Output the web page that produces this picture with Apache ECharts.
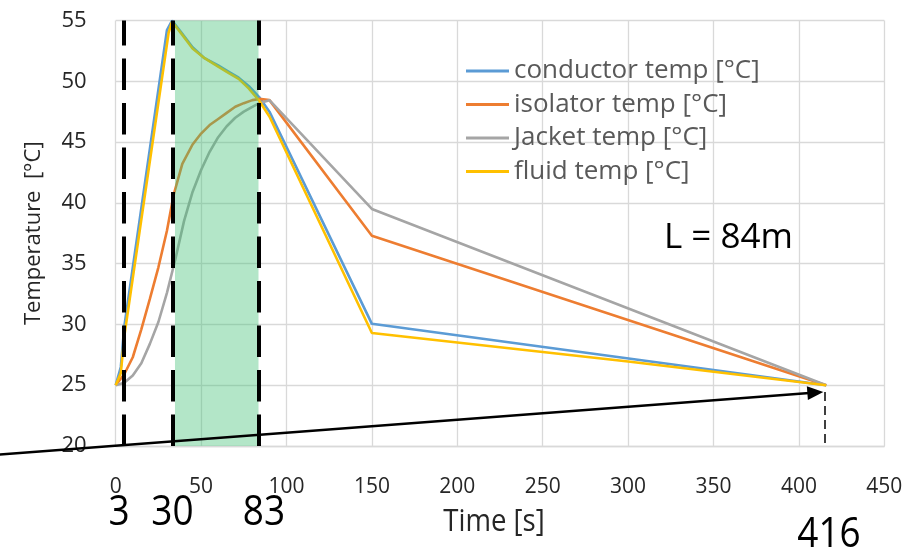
<!DOCTYPE html>
<html><head><meta charset="utf-8">
<script src="https://cdn.jsdelivr.net/npm/echarts@6/dist/echarts.min.js"></script>
<style>html,body{margin:0;padding:0;background:#fff}#c{width:917px;height:547px}</style>
</head><body><div id="c"></div>
<script>
// ---- data ----
const seriesNames = ['conductor temp [°C]', 'isolator temp [°C]', 'Jacket temp [°C]', 'fluid temp [°C]'];
const conductorTime = [0, 3, 5, 30, 33, 38, 45, 52, 60, 66, 72, 78, 84, 90, 150, 416];
const conductorTemp = [25, 26.5, 29.8, 54.2, 55, 54.1, 52.8, 51.9, 51.3, 50.8, 50.3, 49.6, 48.7, 47.5, 30.05, 25];
const isolatorTime = [0, 5, 10, 15, 20, 25, 30, 34, 39, 45, 50, 55, 60, 65, 70, 75, 80, 84, 90, 150, 416];
const isolatorTemp = [25, 25.9, 27.3, 29.6, 32.1, 34.7, 37.7, 40.7, 43.2, 44.8, 45.7, 46.4, 46.9, 47.4, 47.9, 48.2, 48.45, 48.55, 48.45, 37.3, 25];
const jacketTime = [0, 5, 10, 15, 20, 25, 30, 35, 40, 45, 50, 55, 60, 65, 70, 75, 80, 84, 90, 150, 416];
const jacketTemp = [25, 25.2, 25.8, 26.8, 28.4, 30.2, 32.6, 35.4, 38.5, 40.9, 42.7, 44.2, 45.4, 46.3, 47, 47.5, 47.9, 48.2, 48.45, 39.5, 25];
const fluidTime = [0, 3, 5, 31, 33, 38, 45, 52, 60, 66, 72, 78, 84, 90, 150, 300, 416];
const fluidTemp = [25, 26, 29, 54, 54.9, 54, 52.7, 51.9, 51.2, 50.7, 50.2, 49.4, 48.4, 47.1, 29.3, 26.95, 25];
const seriesColors = ['#5b9bd5', '#ed7d31', '#a5a5a5', '#ffc000'];
const markerTimes = [4.45, 33.4, 83.8];     // dashed phase boundaries
const bandRange = [34.7, 83.6];             // shaded phase
const endTime = 415;                        // thin dashed end marker
const arrowStart = [-68, 19.3];
const arrowEnd = [414.3, 24.45];
const xTicks = {min: 0, max: 450, interval: 50};
const yTicks = {min: 20, max: 55, interval: 5};

// ---- chart ----
const FONT = 'Open Sans';
const chart = echarts.init(document.getElementById('c'), null, {renderer: 'canvas'});
const pairs = (t, v) => t.map((x, i) => [x, v[i]]);
const dataSets = [
  pairs(conductorTime, conductorTemp),
  pairs(isolatorTime, isolatorTemp),
  pairs(jacketTime, jacketTemp),
  pairs(fluidTime, fluidTemp)
];
const lineSeries = seriesNames.map((n, i) => ({
  name: n, type: 'line', data: dataSets[i], showSymbol: false, z: 2,
  lineStyle: {width: 2.6, color: seriesColors[i]}, itemStyle: {color: seriesColors[i]},
  emphasis: {disabled: true}
}));

function renderArrow(params, api) {
  const p0 = api.coord(arrowStart);
  const p1 = api.coord(arrowEnd);
  const dx = p1[0] - p0[0], dy = p1[1] - p0[1];
  const len = Math.sqrt(dx * dx + dy * dy);
  const ux = dx / len, uy = dy / len;
  const headLen = 16, headHalf = 7;
  const bx = p1[0] - ux * headLen, by = p1[1] - uy * headLen;
  return {
    type: 'group',
    children: [
      {type: 'line', shape: {x1: p0[0], y1: p0[1], x2: bx + ux * 2, y2: by + uy * 2},
        style: {stroke: '#000', lineWidth: 2.5}},
      {type: 'polygon', shape: {points: [
        [p1[0], p1[1]],
        [bx - uy * headHalf, by + ux * headHalf],
        [bx + uy * headHalf, by - ux * headHalf]
      ]}, style: {fill: '#000'}}
    ]
  };
}

chart.setOption({
  animation: false,
  grid: {left: 115.7, right: 32.7, top: 20.5, bottom: 101},
  legend: {
    data: seriesNames, orient: 'vertical', left: 466, top: 58, padding: 0, icon: 'rect',
    itemWidth: 43, itemHeight: 3, itemGap: 7.5, selectedMode: false,
    textStyle: {fontFamily: FONT, fontSize: 26, color: '#595959'}
  },
  xAxis: {
    type: 'value', min: xTicks.min, max: xTicks.max, interval: xTicks.interval,
    axisLine: {show: true, lineStyle: {color: '#d9d9d9', width: 1.3}},
    axisTick: {show: false},
    splitLine: {show: true, lineStyle: {color: '#d9d9d9', width: 1.3}},
    axisLabel: {fontFamily: FONT, fontSize: 21, color: '#262626', margin: 31}
  },
  yAxis: {
    type: 'value', min: yTicks.min, max: yTicks.max, interval: yTicks.interval,
    name: 'Temperature  [°C]', nameLocation: 'middle', nameGap: 71, nameMoveOverlap: false,
    nameTextStyle: {fontFamily: FONT, fontSize: 22, color: '#262626'},
    axisLine: {show: false}, axisTick: {show: false},
    splitLine: {show: true, lineStyle: {color: '#d9d9d9', width: 1.3}},
    axisLabel: {fontFamily: FONT, fontSize: 22, color: '#262626', margin: 29}
  },
  series: lineSeries.concat([
    {
      type: 'line', data: [], z: 3, silent: true,
      markArea: {silent: true, z: 3, itemStyle: {color: 'rgba(65,192,117,0.4)'},
        data: [[{xAxis: bandRange[0]}, {xAxis: bandRange[1]}]]}
    },
    {
      type: 'line', data: [], z: 4, silent: true,
      markLine: {silent: true, z: 4, symbol: ['none', 'none'], label: {show: false},
        lineStyle: {color: '#000', width: 4, type: [31.5, 13]},
        data: markerTimes.map(t => ({xAxis: t}))}
    },
    {
      type: 'line', data: [], z: 4, silent: true,
      markLine: {silent: true, z: 4, symbol: ['none', 'none'], label: {show: false},
        lineStyle: {color: '#000', width: 1.5, type: [9, 5]},
        data: [[{coord: [endTime, arrowEnd[1]]}, {coord: [endTime, yTicks.min]}]]}
    },
    {
      type: 'custom', clip: false, z: 6, silent: true,
      renderItem: renderArrow,
      data: [arrowEnd]
    }
  ]),
  graphic: [
    {type: 'text', x: 119, y: 513, scaleX: 0.88, style: {text: '3', font: '42px "Open Sans"', fill: '#000', align: 'center', verticalAlign: 'middle'}},
    {type: 'text', x: 172.5, y: 513, scaleX: 0.88, style: {text: '30', font: '42px "Open Sans"', fill: '#000', align: 'center', verticalAlign: 'middle'}},
    {type: 'text', x: 264, y: 513, scaleX: 0.88, style: {text: '83', font: '42px "Open Sans"', fill: '#000', align: 'center', verticalAlign: 'middle'}},
    {type: 'text', x: 829, y: 535, scaleX: 0.88, style: {text: '416', font: '42px "Open Sans"', fill: '#000', align: 'center', verticalAlign: 'middle'}},
    {type: 'text', x: 494, y: 522, scaleX: 0.89, style: {text: 'Time [s]', font: '31px "Open Sans"', fill: '#262626', align: 'center', verticalAlign: 'middle'}},
    {type: 'text', x: 664, y: 238, style: {text: 'L = 84m', font: '35px "Open Sans"', fill: '#000', align: 'left', verticalAlign: 'middle'}}
  ]
});
</script></body></html>
